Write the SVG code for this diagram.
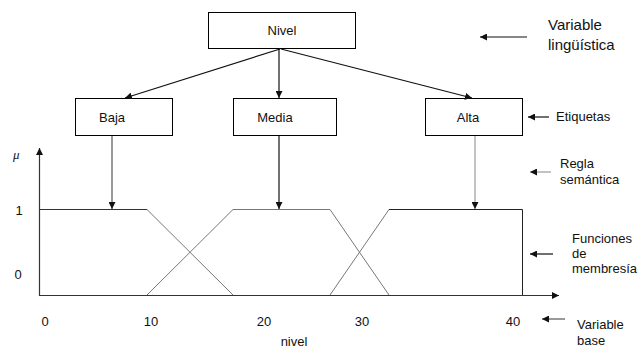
<svg xmlns="http://www.w3.org/2000/svg" width="642" height="349" viewBox="0 0 642 349">
<style>
text{font-family:"Liberation Sans",Arial,sans-serif;font-size:13px;fill:#111}
.box{fill:#fff;stroke:#000;stroke-width:1}
.lbl{text-anchor:middle}
.big{font-size:15px}
.arr{stroke:#111;stroke-width:1.2;fill:none}
.grey{stroke:#999}
.mf{stroke:#777;stroke-width:1;fill:none}
.ax{stroke:#333;stroke-width:1.2;fill:none}
</style>
<defs>
<marker id="ah" viewBox="0 0 10 10" refX="10" refY="5" markerWidth="7" markerHeight="7" markerUnits="userSpaceOnUse" orient="auto"><path d="M0,0L10,5L0,10z" fill="#111"/></marker>
<marker id="ahg" viewBox="0 0 10 10" refX="10" refY="5" markerWidth="7" markerHeight="7" markerUnits="userSpaceOnUse" orient="auto"><path d="M0,0L10,5L0,10z" fill="#888"/></marker>
</defs>
<g id="nivel"><rect class="box" x="208.5" y="12.5" width="147" height="36"/><text class="lbl" x="282" y="35">Nivel</text></g>
<g id="baja"><rect class="box" x="75.5" y="98.5" width="97" height="37"/><text class="lbl" x="112" y="122">Baja</text></g>
<g id="media"><rect class="box" x="233.5" y="98.5" width="103" height="37"/><text class="lbl" x="275" y="122">Media</text></g>
<g id="alta"><rect class="box" x="425.5" y="98.5" width="97" height="37"/><text class="lbl" x="468" y="122">Alta</text></g>
<g id="connectors">
<line class="arr" x1="280" y1="49" x2="125" y2="98" marker-end="url(#ah)"/>
<line class="arr" x1="279" y1="49" x2="279" y2="98" marker-end="url(#ah)"/>
<line class="arr" x1="281" y1="49" x2="472" y2="98" marker-end="url(#ah)"/>
<line class="arr" style="stroke:#555" x1="112" y1="136" x2="112" y2="209" marker-end="url(#ah)"/>
<line class="arr" x1="279" y1="136" x2="279" y2="209" marker-end="url(#ah)"/>
<line class="arr grey" x1="475" y1="136" x2="475" y2="209" marker-end="url(#ah)"/>
<line class="arr" x1="527" y1="37" x2="480" y2="37" marker-end="url(#ah)"/>
<line class="arr" x1="549" y1="117" x2="528" y2="117" marker-end="url(#ah)"/>
<line class="arr grey" x1="551" y1="172" x2="530" y2="172" marker-end="url(#ah)"/>
<line class="arr" x1="553" y1="254" x2="530" y2="254" marker-end="url(#ah)"/>
<line class="arr" style="stroke:#555" x1="565" y1="319" x2="542" y2="319" marker-end="url(#ah)"/>
</g>
<g id="chart">
<line class="ax" x1="39.5" y1="296" x2="39.5" y2="148" marker-end="url(#ah)"/>
<line class="ax" x1="39" y1="295.5" x2="559" y2="295.5" marker-end="url(#ah)"/>
<polyline class="mf" style="stroke:#333" points="40,209.5 147,209.5"/>
<line class="mf" x1="147" y1="209.5" x2="233" y2="295"/>
<polyline class="mf" points="147,295 233,209.5 330,209.5 389,295"/>
<polyline class="mf" points="330,295 389,209.5"/>
<polyline class="mf" style="stroke:#222" points="389,209.5 522.5,209.5 522.5,295"/>
<text x="13" y="159" style="font-family:'Liberation Serif',serif;font-style:italic;font-size:13px">μ</text>
<text class="lbl" x="19" y="215">1</text>
<text class="lbl" x="18" y="279">0</text>
<text class="lbl" x="45" y="326">0</text>
<text class="lbl" x="151" y="326">10</text>
<text class="lbl" x="264" y="326">20</text>
<text class="lbl" x="362" y="326">30</text>
<text class="lbl" x="513" y="326">40</text>
<text class="lbl" x="294" y="346">nivel</text>
</g>
<g id="legend">
<text class="big" x="548" y="30">Variable</text>
<text class="big" x="548" y="50">lingüística</text>
<text x="556" y="121">Etiquetas</text>
<text x="560" y="168">Regla</text>
<text x="560" y="184">semántica</text>
<text x="572" y="243">Funciones</text>
<text x="572" y="258">de</text>
<text x="572" y="273">membresía</text>
<text x="577" y="329">Variable</text>
<text x="577" y="345">base</text>
</g>
</svg>
